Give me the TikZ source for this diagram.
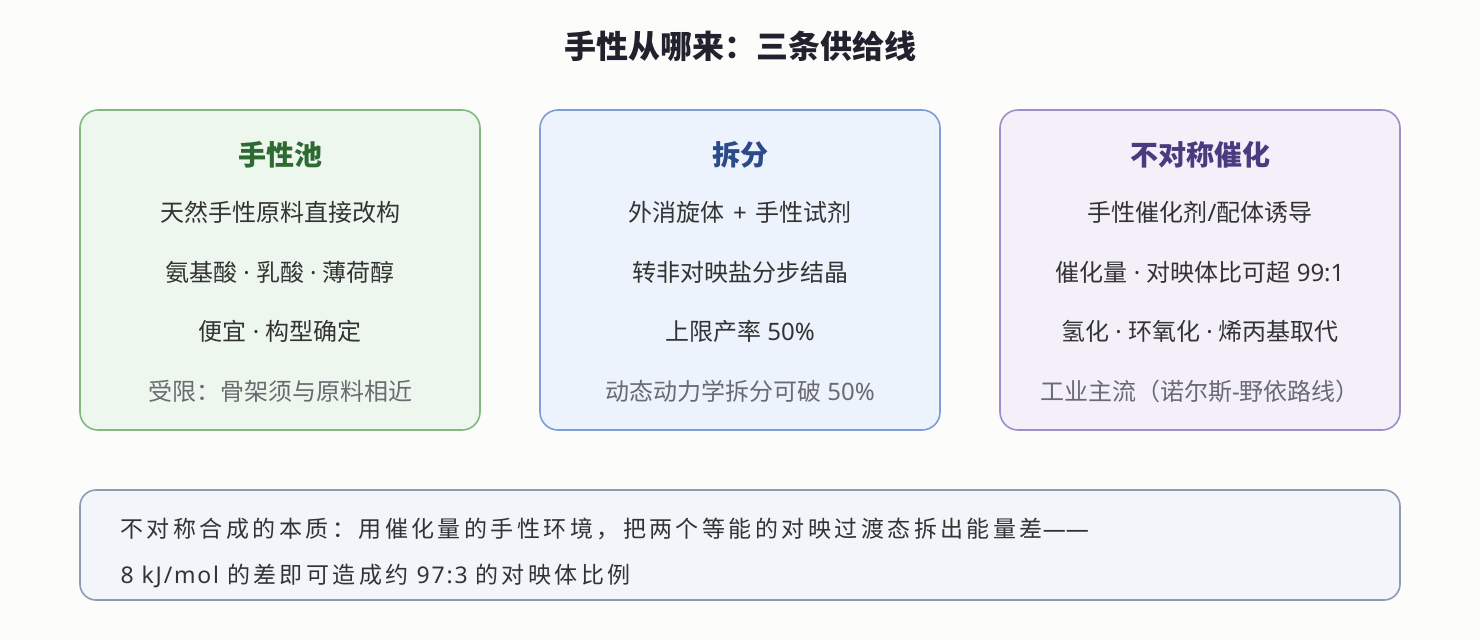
\documentclass[tikz,border=0pt]{standalone}
\usepackage{fontspec}
\setmainfont{Noto Sans CJK SC}
\newfontfamily\widecjk[LetterSpace=15]{Noto Sans CJK SC}
\newfontfamily\lat{Noto Sans}
\newfontfamily\widelat[LetterSpace=8]{Noto Sans}
\newcommand{\md}{{\lat\ ·\ }}
\usetikzlibrary{positioning}

\definecolor{pagebg}{HTML}{FCFCFB}
\definecolor{inkdark}{HTML}{22222E}
\definecolor{inkbody}{HTML}{333333}
\definecolor{inkmuted}{HTML}{6A6A72}
\definecolor{poolfill}{HTML}{EEF7EE}
\definecolor{pooldraw}{HTML}{82B882}
\definecolor{poolhead}{HTML}{2E6B33}
\definecolor{splitfill}{HTML}{EDF3FC}
\definecolor{splitdraw}{HTML}{7F9ED6}
\definecolor{splithead}{HTML}{2B4A8A}
\definecolor{catfill}{HTML}{F4F0FA}
\definecolor{catdraw}{HTML}{A08CC8}
\definecolor{cathead}{HTML}{4A3A7E}
\definecolor{notefill}{HTML}{F2F5F9}
\definecolor{notedraw}{HTML}{8E9BB0}

\tikzset{
    card/.style={draw=#1draw, fill=#1fill, line width=1.6pt, rounded corners=18pt,
        minimum width=400pt, minimum height=320pt, inner sep=0pt},
    head/.style={text=#1head, font=\fontsize{28}{32}\selectfont\bfseries},
    item/.style={text=inkbody, font=\fontsize{24}{28}\selectfont},
    muted/.style={text=inkmuted, font=\fontsize{24}{28}\selectfont}
}

\begin{document}
\begin{tikzpicture}[x=1pt, y=-1pt]
        \useasboundingbox[fill=pagebg] (0,0) rectangle (1480,640);

        % Title
        \node[text=inkdark, font=\fontsize{32}{36}\selectfont\bfseries] (title) at (740,46) {手性从哪来：三条供给线};

        % Chiral pool
        % Define the nodes
        \node[card=pool] (pool) at (280,270) {};
        \node[head=pool] (poolh) at (280,155) {手性池};
        \node[item] (pool1) at (280,212) {天然手性原料直接改构};
        \node[item] (pool2) at (280,272) {氨基酸\md 乳酸\md 薄荷醇};
        \node[item] (pool3) at (280,331) {便宜\md 构型确定};
        \node[muted] (pool4) at (280,391) {受限：骨架须与原料相近};

        % Resolution
        % Define the nodes
        \node[card=split] (split) at (740,270) {};
        \node[head=split] (splith) at (740,155) {拆分};
        \node[item] (split1) at (740,212) {外消旋体{\lat\hspace{9pt}+\hspace{9pt}}手性试剂};
        \node[item] (split2) at (740,272) {转非对映盐分步结晶};
        \node[item] (split3) at (740,331) {上限产率{\lat\ 50\%}};
        \node[muted] (split4) at (740,391) {动态动力学拆分可破{\lat\ 50\%}};

        % Asymmetric catalysis
        % Define the nodes
        \node[card=cat] (cat) at (1200,270) {};
        \node[head=cat] (cath) at (1200,155) {不对称催化};
        \node[item] (cat1) at (1200,212) {手性催化剂{\lat /}配体诱导};
        \node[item] (cat2) at (1200,272) {催化量\md 对映体比可超{\lat\ 99:1}};
        \node[item] (cat3) at (1200,331) {氢化\md 环氧化\md 烯丙基取代};
        \node[muted] (cat4) at (1200,391) {工业主流（诺尔斯{\lat -}野依路线）};

        % Note
        \node[draw=notedraw, fill=notefill, line width=1.6pt, rounded corners=16pt,
            minimum width=1320pt, minimum height=110pt] (note) at (740,545) {};
        \node[item, anchor=west, align=left, font=\widecjk\fontsize{23}{46}\selectfont] (notetext) at (117,553)
            {不对称合成的本质：用催化量的手性环境，把两个等能的对映过渡态拆出能量差{\fontsize{23}{46}\lat ——}\\
             {\widelat 8 kJ/mol }的差即可造成约{\widelat\ 97:3 }的对映体比例};
    \end{tikzpicture}
\end{document}
